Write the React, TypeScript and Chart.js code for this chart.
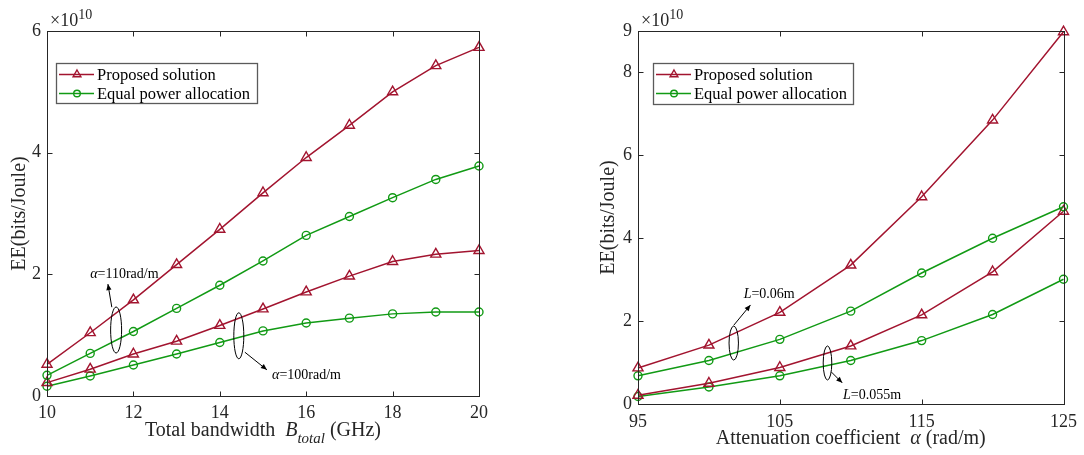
import React, { useEffect, useRef } from "react";
import { Chart, registerables } from "chart.js";

Chart.register(...registerables);

// ---------------- data (values in units of 10^10 bits/Joule) ----------------
const seriesLabels = ["Proposed solution", "Equal power allocation"];

// Left: EE vs total bandwidth
const bandwidthGHz = [10, 11, 12, 13, 14, 15, 16, 17, 18, 19, 20];
const proposedAlpha110 = [0.52, 1.04, 1.58, 2.16, 2.74, 3.34, 3.92, 4.45, 5.0, 5.43, 5.73];
const equalAlpha110 = [0.34, 0.7, 1.06, 1.44, 1.82, 2.22, 2.64, 2.95, 3.26, 3.56, 3.78];
const proposedAlpha100 = [0.22, 0.44, 0.69, 0.9, 1.16, 1.43, 1.71, 1.97, 2.21, 2.33, 2.39];
const equalAlpha100 = [0.16, 0.33, 0.51, 0.69, 0.88, 1.07, 1.2, 1.28, 1.35, 1.38, 1.38];

// Right: EE vs attenuation coefficient
const alphaRadM = [95, 100, 105, 110, 115, 120, 125];
const proposedL060 = [0.87, 1.42, 2.21, 3.35, 5.0, 6.85, 8.98];
const equalL060 = [0.68, 1.05, 1.56, 2.24, 3.16, 4.0, 4.76];
const proposedL055 = [0.21, 0.5, 0.88, 1.4, 2.15, 3.19, 4.65];
const equalL055 = [0.18, 0.41, 0.68, 1.05, 1.53, 2.16, 3.01];

// tick labels
const leftXTicks = [10, 12, 14, 16, 18, 20];
const leftYTicks = [0, 2, 4, 6];
const rightXTicks = [95, 105, 115, 125];
const rightYTicks = [0, 2, 4, 6, 8, 9];

// ---------------- styling ----------------
const FONT = "'Liberation Serif', 'Times New Roman', Times, serif";
const AX = "#262626";
const RED = "#A2142F";
const GREEN = "#119A14";

type Seg = { t: string; it?: boolean; sub?: boolean; sup?: boolean };

function segFont(s: Seg, size: number) {
  const sz = s.sub || s.sup ? Math.round(size * 0.75) : size;
  return `${s.it ? "italic " : ""}${sz}px ${FONT}`;
}
function richWidth(ctx: CanvasRenderingContext2D, segs: Seg[], size: number) {
  let w = 0;
  for (const s of segs) {
    ctx.font = segFont(s, size);
    w += ctx.measureText(s.t).width;
  }
  return w;
}
function drawRich(
  ctx: CanvasRenderingContext2D,
  segs: Seg[],
  x: number,
  y: number,
  size: number,
  align: "left" | "center"
) {
  const w = richWidth(ctx, segs, size);
  let cx = align === "center" ? x - w / 2 : x;
  ctx.textAlign = "left";
  ctx.textBaseline = "alphabetic";
  for (const s of segs) {
    ctx.font = segFont(s, size);
    const dy = s.sub ? size * 0.36 : s.sup ? -size * 0.42 : 0;
    ctx.fillText(s.t, cx, y + dy);
    cx += ctx.measureText(s.t).width;
  }
}

function drawMarker(ctx: CanvasRenderingContext2D, style: string, x: number, y: number, r: number) {
  ctx.beginPath();
  if (style === "triangle") {
    let rad = 0;
    ctx.moveTo(x + Math.sin(rad) * r, y - Math.cos(rad) * r);
    rad += (2 * Math.PI) / 3;
    ctx.lineTo(x + Math.sin(rad) * r, y - Math.cos(rad) * r);
    rad += (2 * Math.PI) / 3;
    ctx.lineTo(x + Math.sin(rad) * r, y - Math.cos(rad) * r);
    ctx.closePath();
  } else {
    ctx.arc(x, y, r, 0, Math.PI * 2);
  }
  ctx.stroke();
}

function drawArrow(ctx: CanvasRenderingContext2D, x1: number, y1: number, x2: number, y2: number) {
  ctx.beginPath();
  ctx.moveTo(x1, y1);
  ctx.lineTo(x2, y2);
  ctx.stroke();
  const ang = Math.atan2(y2 - y1, x2 - x1);
  const len = 6;
  const hw = 2.6;
  const bx = x2 - Math.cos(ang) * len;
  const by = y2 - Math.sin(ang) * len;
  ctx.beginPath();
  ctx.moveTo(x2, y2);
  ctx.lineTo(bx + Math.sin(ang) * hw, by - Math.cos(ang) * hw);
  ctx.lineTo(bx - Math.sin(ang) * hw, by + Math.cos(ang) * hw);
  ctx.closePath();
  ctx.fill();
}

type SeriesSpec = { label: string; values: number[]; color: string; marker: string; r: number };
type Annot = {
  ellipses: { x: number; y: number; rx: number; ry: number }[];
  arrows: { x1: number; y1: number; x2: number; y2: number }[];
  labels: { x: number; y: number; segs: Seg[] }[];
};
type PlotSpec = {
  xs: number[];
  series: SeriesSpec[];
  xMin: number;
  xMax: number;
  yMin: number;
  yMax: number;
  xTicks: number[];
  yTicks: number[];
  padTop: number;
  padRight: number;
  yAxisWidth: number;
  xAxisHeight: number;
  xTickPad: number;
  xTitle: Seg[];
  yTitle: string;
  yTitleOffset: number;
  legendBox: { x: number; y: number; w: number; h: number };
  annot: Annot;
};

function decor(spec: PlotSpec) {
  return {
    id: "decor",
    afterDraw(chart: any) {
      const ctx: CanvasRenderingContext2D = chart.ctx;
      const a = chart.chartArea;
      const xs = chart.scales.x;
      const ys = chart.scales.y;
      ctx.save();

      // axes box and inward ticks
      ctx.strokeStyle = AX;
      ctx.lineWidth = 1;
      const L = Math.round(a.left) + 0.5;
      const R = Math.round(a.right) + 0.5;
      const T = Math.round(a.top) + 0.5;
      const B = Math.round(a.bottom) + 0.5;
      ctx.strokeRect(L, T, R - L, B - T);
      ctx.beginPath();
      for (const v of spec.xTicks) {
        const p = Math.round(xs.getPixelForValue(v)) + 0.5;
        ctx.moveTo(p, B);
        ctx.lineTo(p, B - 5);
        ctx.moveTo(p, T);
        ctx.lineTo(p, T + 5);
      }
      for (const v of spec.yTicks) {
        const p = Math.round(ys.getPixelForValue(v)) + 0.5;
        ctx.moveTo(L, p);
        ctx.lineTo(L + 5, p);
        ctx.moveTo(R, p);
        ctx.lineTo(R - 5, p);
      }
      ctx.stroke();

      // exponent label
      ctx.fillStyle = AX;
      ctx.font = `18px ${FONT}`;
      ctx.textAlign = "left";
      ctx.textBaseline = "alphabetic";
      ctx.fillText("×10", a.left + 3, a.top - 5);
      const w10 = ctx.measureText("×10").width;
      ctx.font = `14px ${FONT}`;
      ctx.fillText("10", a.left + 3 + w10, a.top - 12);

      // x title
      drawRich(ctx, spec.xTitle, (a.left + a.right) / 2, a.bottom + 39.5, 20, "center");

      // y title
      ctx.save();
      ctx.translate(a.left - spec.yTitleOffset, (a.top + a.bottom) / 2);
      ctx.rotate(-Math.PI / 2);
      drawRich(ctx, [{ t: spec.yTitle }], 0, 0, 20, "center");
      ctx.restore();

      // annotations
      ctx.strokeStyle = "#000";
      ctx.fillStyle = "#000";
      ctx.lineWidth = 1;
      for (const e of spec.annot.ellipses) {
        ctx.beginPath();
        ctx.ellipse(xs.getPixelForValue(e.x), ys.getPixelForValue(e.y), e.rx, e.ry, 0, 0, Math.PI * 2);
        ctx.stroke();
      }
      for (const ar of spec.annot.arrows) {
        drawArrow(
          ctx,
          xs.getPixelForValue(ar.x1),
          ys.getPixelForValue(ar.y1),
          xs.getPixelForValue(ar.x2),
          ys.getPixelForValue(ar.y2)
        );
      }
      for (const lb of spec.annot.labels) {
        drawRich(ctx, lb.segs, xs.getPixelForValue(lb.x), ys.getPixelForValue(lb.y), 14, "left");
      }

      // legend
      const lg = spec.legendBox;
      ctx.fillStyle = "#fff";
      ctx.fillRect(lg.x, lg.y, lg.w, lg.h);
      ctx.strokeStyle = "#5a5a5a";
      ctx.lineWidth = 1.3;
      ctx.strokeRect(lg.x + 0.5, lg.y + 0.5, lg.w, lg.h);
      const rows = [lg.y + 11.5, lg.y + 30.5];
      for (let i = 0; i < 2; i++) {
        const s = spec.series[i];
        const yy = rows[i];
        ctx.strokeStyle = s.color;
        ctx.lineWidth = 1.4;
        ctx.beginPath();
        ctx.moveTo(lg.x + 3, yy);
        ctx.lineTo(lg.x + 38, yy);
        ctx.stroke();
        drawMarker(ctx, s.marker, lg.x + 21, yy, s.marker === "triangle" ? 4.5 : 3.3);
        ctx.fillStyle = "#000";
        drawRich(ctx, [{ t: s.label }], lg.x + 41, yy + 5, 16.5, "left");
      }
      ctx.restore();
    },
  };
}

function makeChart(canvas: HTMLCanvasElement, spec: PlotSpec) {
  const tickFont = { family: FONT, size: 18 };
  return new Chart(canvas, {
    type: "line",
    data: {
      datasets: spec.series.map((s) => ({
        label: s.label,
        data: spec.xs.map((x, i) => ({ x, y: s.values[i] })),
        borderColor: s.color,
        backgroundColor: "rgba(0,0,0,0)",
        pointStyle: s.marker as any,
        pointRadius: s.r,
        pointBorderWidth: 1.4,
        pointBorderColor: s.color,
        pointBackgroundColor: "rgba(0,0,0,0)",
        borderWidth: 1.5,
        tension: 0,
        clip: false as any,
        fill: false,
      })),
    },
    options: {
      animation: false,
      responsive: false,
      maintainAspectRatio: false,
      events: [],
      layout: { padding: { top: spec.padTop, right: spec.padRight, left: 0, bottom: 0 } },
      plugins: { legend: { display: false }, tooltip: { enabled: false } },
      scales: {
        x: {
          type: "linear",
          min: spec.xMin,
          max: spec.xMax,
          offset: false,
          afterBuildTicks: (sc: any) => {
            sc.ticks = spec.xTicks.map((v) => ({ value: v }));
          },
          afterFit: (sc: any) => {
            sc.height = spec.xAxisHeight;
          },
          grid: { display: false, drawTicks: false },
          border: { display: false },
          ticks: {
            font: tickFont,
            color: AX,
            padding: spec.xTickPad,
            maxRotation: 0,
            autoSkip: false,
            callback: (v: any) => String(v),
          },
        },
        y: {
          type: "linear",
          min: spec.yMin,
          max: spec.yMax,
          afterBuildTicks: (sc: any) => {
            sc.ticks = spec.yTicks.map((v) => ({ value: v }));
          },
          afterFit: (sc: any) => {
            sc.width = spec.yAxisWidth;
          },
          grid: { display: false, drawTicks: false },
          border: { display: false },
          ticks: {
            font: tickFont,
            color: AX,
            padding: 6,
            autoSkip: false,
            callback: (v: any) => String(v),
          },
        },
      },
    } as any,
    plugins: [decor(spec)],
  });
}

const leftSpec: PlotSpec = {
  xs: bandwidthGHz,
  series: [
    { label: seriesLabels[0], values: proposedAlpha110, color: RED, marker: "triangle", r: 5.8 },
    { label: seriesLabels[1], values: equalAlpha110, color: GREEN, marker: "circle", r: 4 },
    { label: seriesLabels[0], values: proposedAlpha100, color: RED, marker: "triangle", r: 5.8 },
    { label: seriesLabels[1], values: equalAlpha100, color: GREEN, marker: "circle", r: 4 },
  ],
  xMin: 10,
  xMax: 20,
  yMin: 0,
  yMax: 6,
  xTicks: leftXTicks,
  yTicks: leftYTicks,
  padTop: 31,
  padRight: 63,
  yAxisWidth: 47,
  xAxisHeight: 59,
  xTickPad: 6,
  xTitle: [{ t: "Total bandwidth  " }, { t: "B", it: true }, { t: "total", it: true, sub: true }, { t: " (GHz)" }],
  yTitle: "EE(bits/Joule)",
  yTitleOffset: 22,
  legendBox: { x: 56, y: 63, w: 201, h: 40 },
  annot: {
    ellipses: [
      { x: 11.6, y: 1.085, rx: 5.5, ry: 23 },
      { x: 14.44, y: 0.99, rx: 5, ry: 23 },
    ],
    arrows: [
      { x1: 11.5, y1: 1.46, x2: 11.41, y2: 1.84 },
      { x1: 14.58, y1: 0.72, x2: 15.09, y2: 0.43 },
    ],
    labels: [
      { x: 11.0, y: 1.94, segs: [{ t: "α", it: true }, { t: "=110rad/m" }] },
      { x: 15.21, y: 0.28, segs: [{ t: "α", it: true }, { t: "=100rad/m" }] },
    ],
  },
};

const rightSpec: PlotSpec = {
  xs: alphaRadM,
  series: [
    { label: seriesLabels[0], values: proposedL060, color: RED, marker: "triangle", r: 5.8 },
    { label: seriesLabels[1], values: equalL060, color: GREEN, marker: "circle", r: 4 },
    { label: seriesLabels[0], values: proposedL055, color: RED, marker: "triangle", r: 5.8 },
    { label: seriesLabels[1], values: equalL055, color: GREEN, marker: "circle", r: 4 },
  ],
  xMin: 95,
  xMax: 125,
  yMin: 0,
  yMax: 9,
  xTicks: rightXTicks,
  yTicks: rightYTicks,
  padTop: 31,
  padRight: 15,
  yAxisWidth: 96,
  xAxisHeight: 51,
  xTickPad: 7,
  xTitle: [{ t: "Attenuation coefficient  " }, { t: "α", it: true }, { t: " (rad/m)" }],
  yTitle: "EE(bits/Joule)",
  yTitleOffset: 24,
  legendBox: { x: 111, y: 63, w: 200, h: 41 },
  annot: {
    ellipses: [
      { x: 101.75, y: 1.47, rx: 4.7, ry: 17 },
      { x: 108.36, y: 0.99, rx: 4.3, ry: 17 },
    ],
    arrows: [
      { x1: 101.75, y1: 1.9, x2: 102.93, y2: 2.39 },
      { x1: 108.64, y1: 0.77, x2: 109.4, y2: 0.51 },
    ],
    labels: [
      { x: 102.45, y: 2.56, segs: [{ t: "L", it: true }, { t: "=0.06m" }] },
      { x: 109.45, y: 0.12, segs: [{ t: "L", it: true }, { t: "=0.055m" }] },
    ],
  },
};

export default function App() {
  const leftRef = useRef<HTMLCanvasElement | null>(null);
  const rightRef = useRef<HTMLCanvasElement | null>(null);

  useEffect(() => {
    const charts: Chart[] = [];
    if (leftRef.current) charts.push(makeChart(leftRef.current, leftSpec));
    if (rightRef.current) charts.push(makeChart(rightRef.current, rightSpec));
    return () => {
      charts.forEach((c) => c.destroy());
    };
  }, []);

  return (
    <div
      style={{
        position: "absolute",
        left: 0,
        top: 0,
        width: 1084,
        height: 455,
        background: "#fff",
        overflow: "hidden",
      }}
    >
      <canvas
        ref={leftRef}
        width={542}
        height={455}
        style={{ position: "absolute", left: 0, top: 0, width: 542, height: 455 }}
      />
      <canvas
        ref={rightRef}
        width={542}
        height={455}
        style={{ position: "absolute", left: 542, top: 0, width: 542, height: 455 }}
      />
    </div>
  );
}
